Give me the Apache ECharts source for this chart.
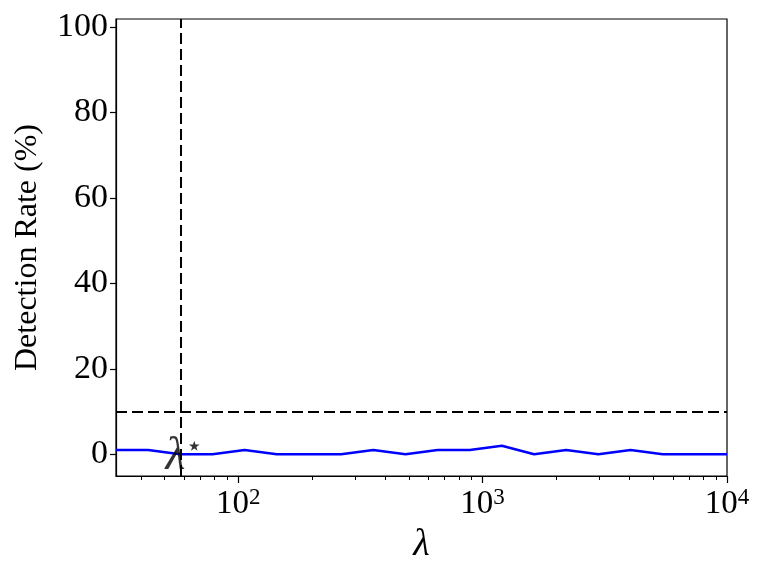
<!DOCTYPE html>
<html>
<head>
<meta charset="utf-8">
<script src="https://cdn.jsdelivr.net/npm/echarts@6/dist/echarts.min.js"></script>
<style>
  html, body { margin: 0; padding: 0; background: #fff; }
  #main { width: 762px; height: 571px; }
</style>
</head>
<body>
<div id="main"></div>
<script>
  // lambda values (log spaced) and detection rate in %
  var lambdas = [31.62, 42.81, 57.97, 78.48, 106.2, 143.8, 194.8, 263.7, 357.0, 483.3,
                 654.4, 885.9, 1199, 1624, 2198, 2976, 4030, 5456, 7386, 10000];
  var rates = [1, 1, 0, 0, 1, 0, 0, 0, 1, 0, 1, 1, 2, 0, 1, 0, 1, 0, 0, 0];
  var lambdaStar = 57.97;
  var threshold = 10;
  var yTicks = [0, 20, 40, 60, 80, 100];
  var xMinor = [40, 50, 60, 70, 80, 90, 200, 300, 400, 500, 600, 700, 800, 900,
                2000, 3000, 4000, 5000, 6000, 7000, 8000, 9000];

  var font = 'Liberation Serif';
  var chart = echarts.init(document.getElementById('main'));

  var pts = [];
  for (var i = 0; i < lambdas.length; i++) {
    pts.push([lambdas[i], rates[i]]);
  }

  chart.setOption({
    animation: false,
    grid: {
      left: 116, right: 35, top: 19, bottom: 95,
      show: true, borderColor: '#000', borderWidth: 1.2, backgroundColor: 'transparent'
    },
    xAxis: [
      {
        type: 'log', logBase: 10, min: 31.62, max: 10000,
        name: 'λ', nameLocation: 'middle', nameGap: 50,
        nameTextStyle: { fontFamily: font, fontStyle: 'italic', fontSize: 38, color: '#000' },
        axisLine: { show: true, onZero: false, lineStyle: { color: '#000', width: 1.2 } },
        axisTick: { show: true, inside: false, length: 7, lineStyle: { color: '#000', width: 1.2 } },
        splitLine: { show: false },
        axisLabel: {
          showMinLabel: false, showMaxLabel: true, margin: 10,
          color: '#000', fontFamily: font, fontSize: 33,
          formatter: function (v) {
            var e = Math.round(Math.log10(v));
            return '{b|10}{s|' + e + '}';
          },
          rich: {
            b: { fontFamily: font, fontSize: 33, color: '#000' },
            s: { fontFamily: font, fontSize: 23, color: '#000', verticalAlign: 'top', padding: [0, 0, 14, 0] }
          }
        }
      },
      {
        type: 'log', logBase: 10, min: 31.62, max: 10000, position: 'bottom',
        axisLine: { show: false, onZero: false },
        axisTick: { show: true, length: 4, customValues: xMinor, lineStyle: { color: '#000', width: 1 } },
        axisLabel: { show: false },
        splitLine: { show: false }
      }
    ],
    yAxis: {
      type: 'value', min: -5.1, max: 101.9,
      name: 'Detection Rate (%)', nameLocation: 'middle', nameGap: 72,
      nameTextStyle: { fontFamily: font, fontSize: 32, color: '#000' },
      axisLine: { show: true, lineStyle: { color: '#000', width: 1.2 } },
      axisTick: { show: true, length: 6, customValues: yTicks, lineStyle: { color: '#000', width: 1.2 } },
      axisLabel: { customValues: yTicks, color: '#000', fontFamily: font, fontSize: 34, margin: 8 },
      splitLine: { show: false }
    },
    series: [
      {
        type: 'line',
        data: pts,
        showSymbol: false,
        symbol: 'none',
        lineStyle: { color: '#0000ff', width: 2.5 },
        z: 3,
        markLine: {
          silent: true,
          symbol: 'none',
          label: { show: false },
          lineStyle: { color: '#000', width: 2, type: [11, 5] },
          data: [
            { yAxis: threshold },
            { xAxis: lambdaStar }
          ]
        }
      },
      {
        // lambda-star annotation
        type: 'scatter',
        data: [[lambdaStar, 0]],
        symbolSize: 1,
        itemStyle: { color: 'rgba(0,0,0,0)' },
        silent: true,
        z: 5,
        label: {
          show: true,
          position: 'inside',
          offset: [4, 3],
          formatter: '{l|λ}{s|⋆}',
          rich: {
            l: { fontFamily: font, fontStyle: 'italic', fontSize: 46, color: '#000', lineHeight: 46 },
            s: { fontFamily: 'DejaVu Sans', fontSize: 28, color: '#000', verticalAlign: 'top', lineHeight: 46, padding: [0, 0, 8, 0] }
          }
        }
      }
    ]
  });
</script>
</body>
</html>
